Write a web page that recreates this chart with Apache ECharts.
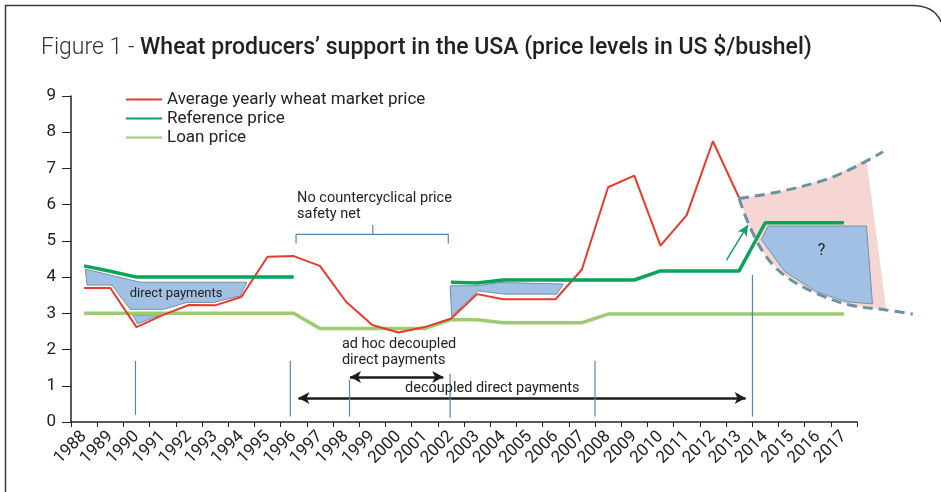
<!DOCTYPE html>
<html><head><meta charset="utf-8">
<script src="https://cdn.jsdelivr.net/npm/echarts@6/dist/echarts.min.js"></script>
<style>html,body{margin:0;padding:0;background:#fff;}#c{width:941px;height:492px;}</style>
</head><body><div id="c"></div>
<script>
// ---- categories ----
const years = ['1988','1989','1990','1991','1992','1993','1994','1995','1996','1997','1998','1999','2000','2001','2002','2003','2004','2005','2006','2007','2008','2009','2010','2011','2012','2013','2014','2015','2016','2017'];
// ---- series values (US $/bushel) ----
const marketPrice    = [3.70,3.70,2.62,2.95,3.23,3.22,3.45,4.56,4.58,4.31,3.32,2.68,2.47,2.62,2.85,3.53,3.39,3.39,3.39,4.21,6.48,6.80,4.87,5.71,7.75,6.19,null,null,null,null];
const referencePrice = [4.31,4.16,4.00,4.00,4.00,4.00,4.00,4.00,4.00,null,null,null,null,null,3.86,3.84,3.92,3.92,3.92,3.92,3.92,3.92,4.17,4.17,4.17,4.17,5.50,5.50,5.50,5.50];
const loanPrice      = [3.00,3.00,3.00,3.00,3.00,3.00,3.00,3.00,3.00,2.58,2.58,2.58,2.58,2.58,2.83,2.82,2.74,2.74,2.74,2.74,2.98,2.98,2.98,2.98,2.98,2.98,2.98,2.98,2.98,2.98];
const seriesNames = ['Average yearly wheat market price','Reference price','Loan price'];
// ---- illustrative areas, [year, price] ----
const paymentArea1 = [[1988.05,4.22],[1990.14,3.86],[1994.21,3.86],[1993.96,3.48],[1992.94,3.30],[1991.92,3.30],[1991.03,3.11],[1989.76,3.11],[1989.06,3.78],[1988.11,3.78]];
const paymentArea1b = [[1989.86,2.95],[1990.04,2.71],[1990.88,2.95]];
const paymentArea2 = [[2001.97,3.76],[2003.0,3.76],[2003.87,3.85],[2006.29,3.81],[2006.04,3.53],[2004.06,3.53],[2003.05,3.62],[2002.03,2.93]];
const paymentArea3 = [[2013.85,5.04],[2014.11,5.41],[2017.86,5.41],[2018.09,3.26],[2017.10,3.32],[2015.95,3.60],[2014.74,4.15]];
const forecastCone = [[2013.0,6.17],[2014.68,6.38],[2016.33,6.70],[2017.86,7.25],[2018.62,3.09],[2017.22,3.23],[2015.95,3.55],[2014.8,4.01],[2014.04,4.56],[2013.41,5.39]];
const forecastUpper = [[2013.0,6.17],[2014.68,6.38],[2016.33,6.70],[2017.48,7.06],[2018.49,7.46]];
const forecastLower = [[2013.0,6.17],[2013.41,5.39],[2014.04,4.56],[2014.8,4.01],[2015.95,3.55],[2017.22,3.23],[2018.62,3.09],[2019.63,2.98]];
// ---- annotation guides ----
const markerLines = [[[1989.96,0.20],[1989.96,1.69]],[[1995.87,0.15],[1995.87,1.69]],[[1998.13,0.15],[1998.13,1.17]],[[2001.97,0.12],[2001.97,1.33]],[[2007.5,0.15],[2007.5,1.69]],[[2013.51,0.15],[2013.51,4.06]]];
const bracketLines = [[[1996.09,4.93],[1996.09,5.18],[2001.90,5.18],[2001.90,4.93]],[[1999.02,5.18],[1999.02,5.44]]];
const doubleArrows = [[[1998.15,1.24],[2001.71,1.24]],[[1996.18,0.66],[2013.25,0.66]]];
const greenArrow = [[2012.52,4.47],[2013.34,5.44]];
const notes = [
  {pos:[1996.13,5.96], text:'No countercyclical price\nsafety net', size:14.5},
  {pos:[1989.74,3.54], text:'direct payments', size:13},
  {pos:[1997.84,1.91], text:'ad hoc decoupled\ndirect payments', size:14.5},
  {pos:[2000.25,0.94], text:'decoupled direct payments', size:14.5},
  {pos:[2016.15,4.71], text:'?', size:16, center:true}
];

const FONT = 'Roboto';
const chart = echarts.init(document.getElementById('c'), null, {renderer:'canvas'});

function polyItem(points, style){
  return {
    type:'custom', xAxisIndex:1, yAxisIndex:0, silent:true, clip:false,
    data:[[0]],
    renderItem:function(params, api){
      return {type:'polygon', shape:{points:points.map(p=>api.coord(p))}, style:style};
    }
  };
}
function curveItem(points, style, z){
  return {
    type:'custom', xAxisIndex:1, yAxisIndex:0, silent:true, clip:false, z:z,
    data:[[0]],
    renderItem:function(params, api){
      return {type:'polyline', shape:{points:points.map(p=>api.coord(p)), smooth:0.35}, style:style};
    }
  };
}

const areaFill = {fill:'#a2c0e3', stroke:'#6f93aa', lineWidth:1};
const dashStyle = {fill:null, stroke:'#6b92a2', lineWidth:3, lineDash:[10,6]};
const guideLines = markerLines.concat(bracketLines);

const option = {
  animation:false,
  backgroundColor:'#fff',
  title:{
    text:'{a|Figure 1 - }{b|Wheat producers’ support in the USA (price levels in US $/bushel)}',
    left:41, top:37, padding:0,
    textStyle:{rich:{
      a:{fontSize:23, fontWeight:300, fontFamily:FONT, color:'#333'},
      b:{fontSize:23, fontWeight:500, fontFamily:FONT, color:'#222'}
    }}
  },
  legend:{
    orient:'vertical', left:120, top:86, itemWidth:36, itemHeight:14, itemGap:2,
    data:seriesNames,
    itemStyle:{opacity:0},
    textStyle:{fontSize:17, fontFamily:FONT, color:'#222'}
  },
  grid:{left:71, right:84, top:96, bottom:70, containLabel:false},
  xAxis:[
    {type:'category', data:years, boundaryGap:true,
     axisLine:{lineStyle:{color:'#222', width:1.5}},
     axisTick:{show:true, length:5, lineStyle:{color:'#222'}},
     axisLabel:{rotate:45, interval:0, fontSize:17, fontFamily:FONT, color:'#222', margin:12},
     splitLine:{show:false}},
    {type:'value', min:1987.5, max:2017.5, show:false}
  ],
  yAxis:{type:'value', min:0, max:9, interval:1,
     axisLine:{show:true, lineStyle:{color:'#222', width:1.5}},
     axisTick:{show:true, length:9, lineStyle:{color:'#222'}},
     axisLabel:{fontSize:17, fontFamily:FONT, color:'#222', margin:15},
     splitLine:{show:false}},
  series:[
    Object.assign(polyItem(forecastCone, {fill:'#f5d6d2'}), {z:1}),
    Object.assign(polyItem(paymentArea1, areaFill), {z:2}),
    Object.assign(polyItem(paymentArea1b, areaFill), {z:2}),
    Object.assign(polyItem(paymentArea2, areaFill), {z:2}),
    Object.assign(polyItem(paymentArea3, areaFill), {z:2}),
    {name:seriesNames[0], type:'line', data:marketPrice, symbol:'none', z:5,
     lineStyle:{color:'#e8392c', width:2}, itemStyle:{color:'#e8392c'}},
    {name:seriesNames[1], type:'line', data:referencePrice, symbol:'none', z:5,
     lineStyle:{color:'#0aa35a', width:3.5}, itemStyle:{color:'#0aa35a'}},
    {name:seriesNames[2], type:'line', data:loanPrice, symbol:'none', z:4,
     lineStyle:{color:'#9ccb74', width:3.5}, itemStyle:{color:'#9ccb74'}},
    curveItem(forecastUpper, dashStyle, 6),
    curveItem(forecastLower, dashStyle, 6),
    {type:'line', xAxisIndex:1, data:[], symbol:'none', silent:true, z:6,
     markLine:{silent:true, symbol:['arrow','arrow'], symbolSize:[9,11], label:{show:false},
       lineStyle:{color:'#1d1d1d', width:2.5, type:'solid'},
       data:doubleArrows.map(a=>[{coord:a[0]},{coord:a[1]}]).concat([
         [{coord:greenArrow[0], symbol:'none', lineStyle:{color:'#11a062', width:1.5}},
          {coord:greenArrow[1], symbol:'arrow', symbolSize:[8,11], lineStyle:{color:'#11a062', width:1.5}, itemStyle:{color:'#11a062'}}]
       ])}},
    {type:'custom', xAxisIndex:1, yAxisIndex:0, silent:true, clip:false, z:7,
     data:guideLines.map((l,i)=>[i]),
     renderItem:function(params, api){
       const l = guideLines[params.dataIndex];
       return {type:'polyline', shape:{points:l.map(p=>api.coord(p))}, style:{stroke:'#5b84ad', lineWidth:1.2, fill:null}};
     }},
    {type:'custom', xAxisIndex:1, yAxisIndex:0, silent:true, clip:false, z:8,
     data:notes.map((n,i)=>[i]),
     renderItem:function(params, api){
       const n = notes[params.dataIndex];
       const p = api.coord(n.pos);
       return {type:'text', x:p[0], y:p[1], style:{text:n.text, fontSize:n.size, fontFamily:FONT, fill:'#222',
         align:n.center?'center':'left', verticalAlign:'middle', lineHeight:16}};
     }}
  ],
  graphic:[
    {type:'polyline', silent:true, shape:{points:[[5.5,492],[5.5,5.5],[912,5.5]]}, style:{fill:null, stroke:'#3a3a3a', lineWidth:1.5}},
    {type:'bezierCurve', silent:true, shape:{x1:912, y1:5.5, cpx1:928, cpy1:5.5, cpx2:937, cpy2:12, x2:941, y2:22}, style:{fill:null, stroke:'#3a3a3a', lineWidth:1.5}}
  ]
};
chart.setOption(option);
</script></body></html>
